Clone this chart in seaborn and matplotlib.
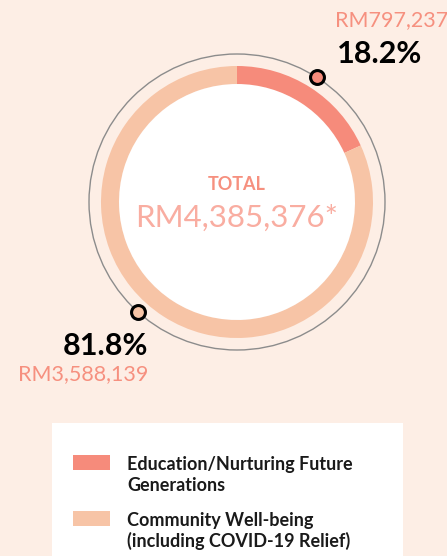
import matplotlib
matplotlib.use("Agg")
import matplotlib.pyplot as plt
from matplotlib.patches import Circle, Rectangle
import numpy as np
import seaborn as sns

# Data
categories = ["Education/Nurturing Future\nGenerations",
              "Community Well-being\n(including COVID-19 Relief)"]
amounts = [797237, 3588139]
amount_labels = ["RM797,237", "RM3,588,139"]
percent_labels = ["18.2%", "81.8%"]
total_label = "RM4,385,376*"

palette = ["#f68b7b", "#f7c4a6"]
bg = "#fdeee5"
pink_text = "#f6907f"

sns.set_theme(style="white")
plt.rcParams["font.family"] = ["Lato", "DejaVu Sans"]

W, H = 447, 556
fig = plt.figure(figsize=(W / 100, H / 100), dpi=100, facecolor=bg)
ax = fig.add_axes([0, 0, 1, 1])
ax.set_facecolor(bg)

cx, cy = 237, H - 202
r_outer, ring_w, r_guide = 136, 18, 148

# white disc inside the ring
ax.add_patch(Circle((cx, cy), r_outer - ring_w, color="white", zorder=1))
# thin guide circle
ax.add_patch(Circle((cx, cy), r_guide, fill=False, ec="#8c8c8c", lw=1.0, zorder=1))

wedges, _ = ax.pie(amounts, colors=palette, startangle=90, counterclock=False,
                   radius=r_outer, center=(cx, cy),
                   wedgeprops=dict(width=ring_w, linewidth=0), frame=True)
ax.set_xlim(0, W)
ax.set_ylim(0, H)
ax.set_aspect("equal")
ax.axis("off")

# marker dots on the guide circle
frac0 = amounts[0] / sum(amounts)
ang0 = np.deg2rad(90 - 360 * frac0 / 2)
ang1 = np.deg2rad(228)
for ang, col in [(ang0, palette[0]), (ang1, palette[1])]:
    ax.plot(cx + r_guide * np.cos(ang), cy + r_guide * np.sin(ang), "o",
            ms=10, mfc=col, mec="black", mew=2.2, zorder=5)

# value labels
ax.text(335, H - 20, amount_labels[0], color=pink_text, fontsize=15.5,
        ha="left", va="center")
ax.text(337, H - 54, percent_labels[0], color="black", fontsize=22,
        fontweight="bold", ha="left", va="center")
ax.text(148, H - 346, percent_labels[1], color="black", fontsize=22,
        fontweight="bold", ha="right", va="center")
ax.text(148, H - 374, amount_labels[1], color=pink_text, fontsize=15.5,
        ha="right", va="center")

# centre total
ax.text(cx, H - 184, "TOTAL", color=pink_text, fontsize=13,
        fontweight="bold", ha="center", va="center")
ax.text(cx, H - 218, total_label, color="#f9ada1", fontsize=22.5,
        fontweight="normal", ha="center", va="center")

# legend panel
ax.add_patch(Rectangle((52, 0), 351, H - 423, color="white", lw=0, zorder=1))
entry_tops = [455, 511]
for wedge, label, top in zip(wedges, categories, entry_tops):
    ax.add_patch(Rectangle((73, H - top - 15), 37, 15,
                           facecolor=wedge.get_facecolor(), lw=0, zorder=2))
    for i, line in enumerate(label.split("\n")):
        ax.text(127, H - (top + 15 + 21 * i), line, color="#1a1a1a",
                fontsize=13, fontweight="bold", ha="left", va="baseline",
                zorder=3)

fig.savefig("out.png", dpi=100, facecolor=bg)
